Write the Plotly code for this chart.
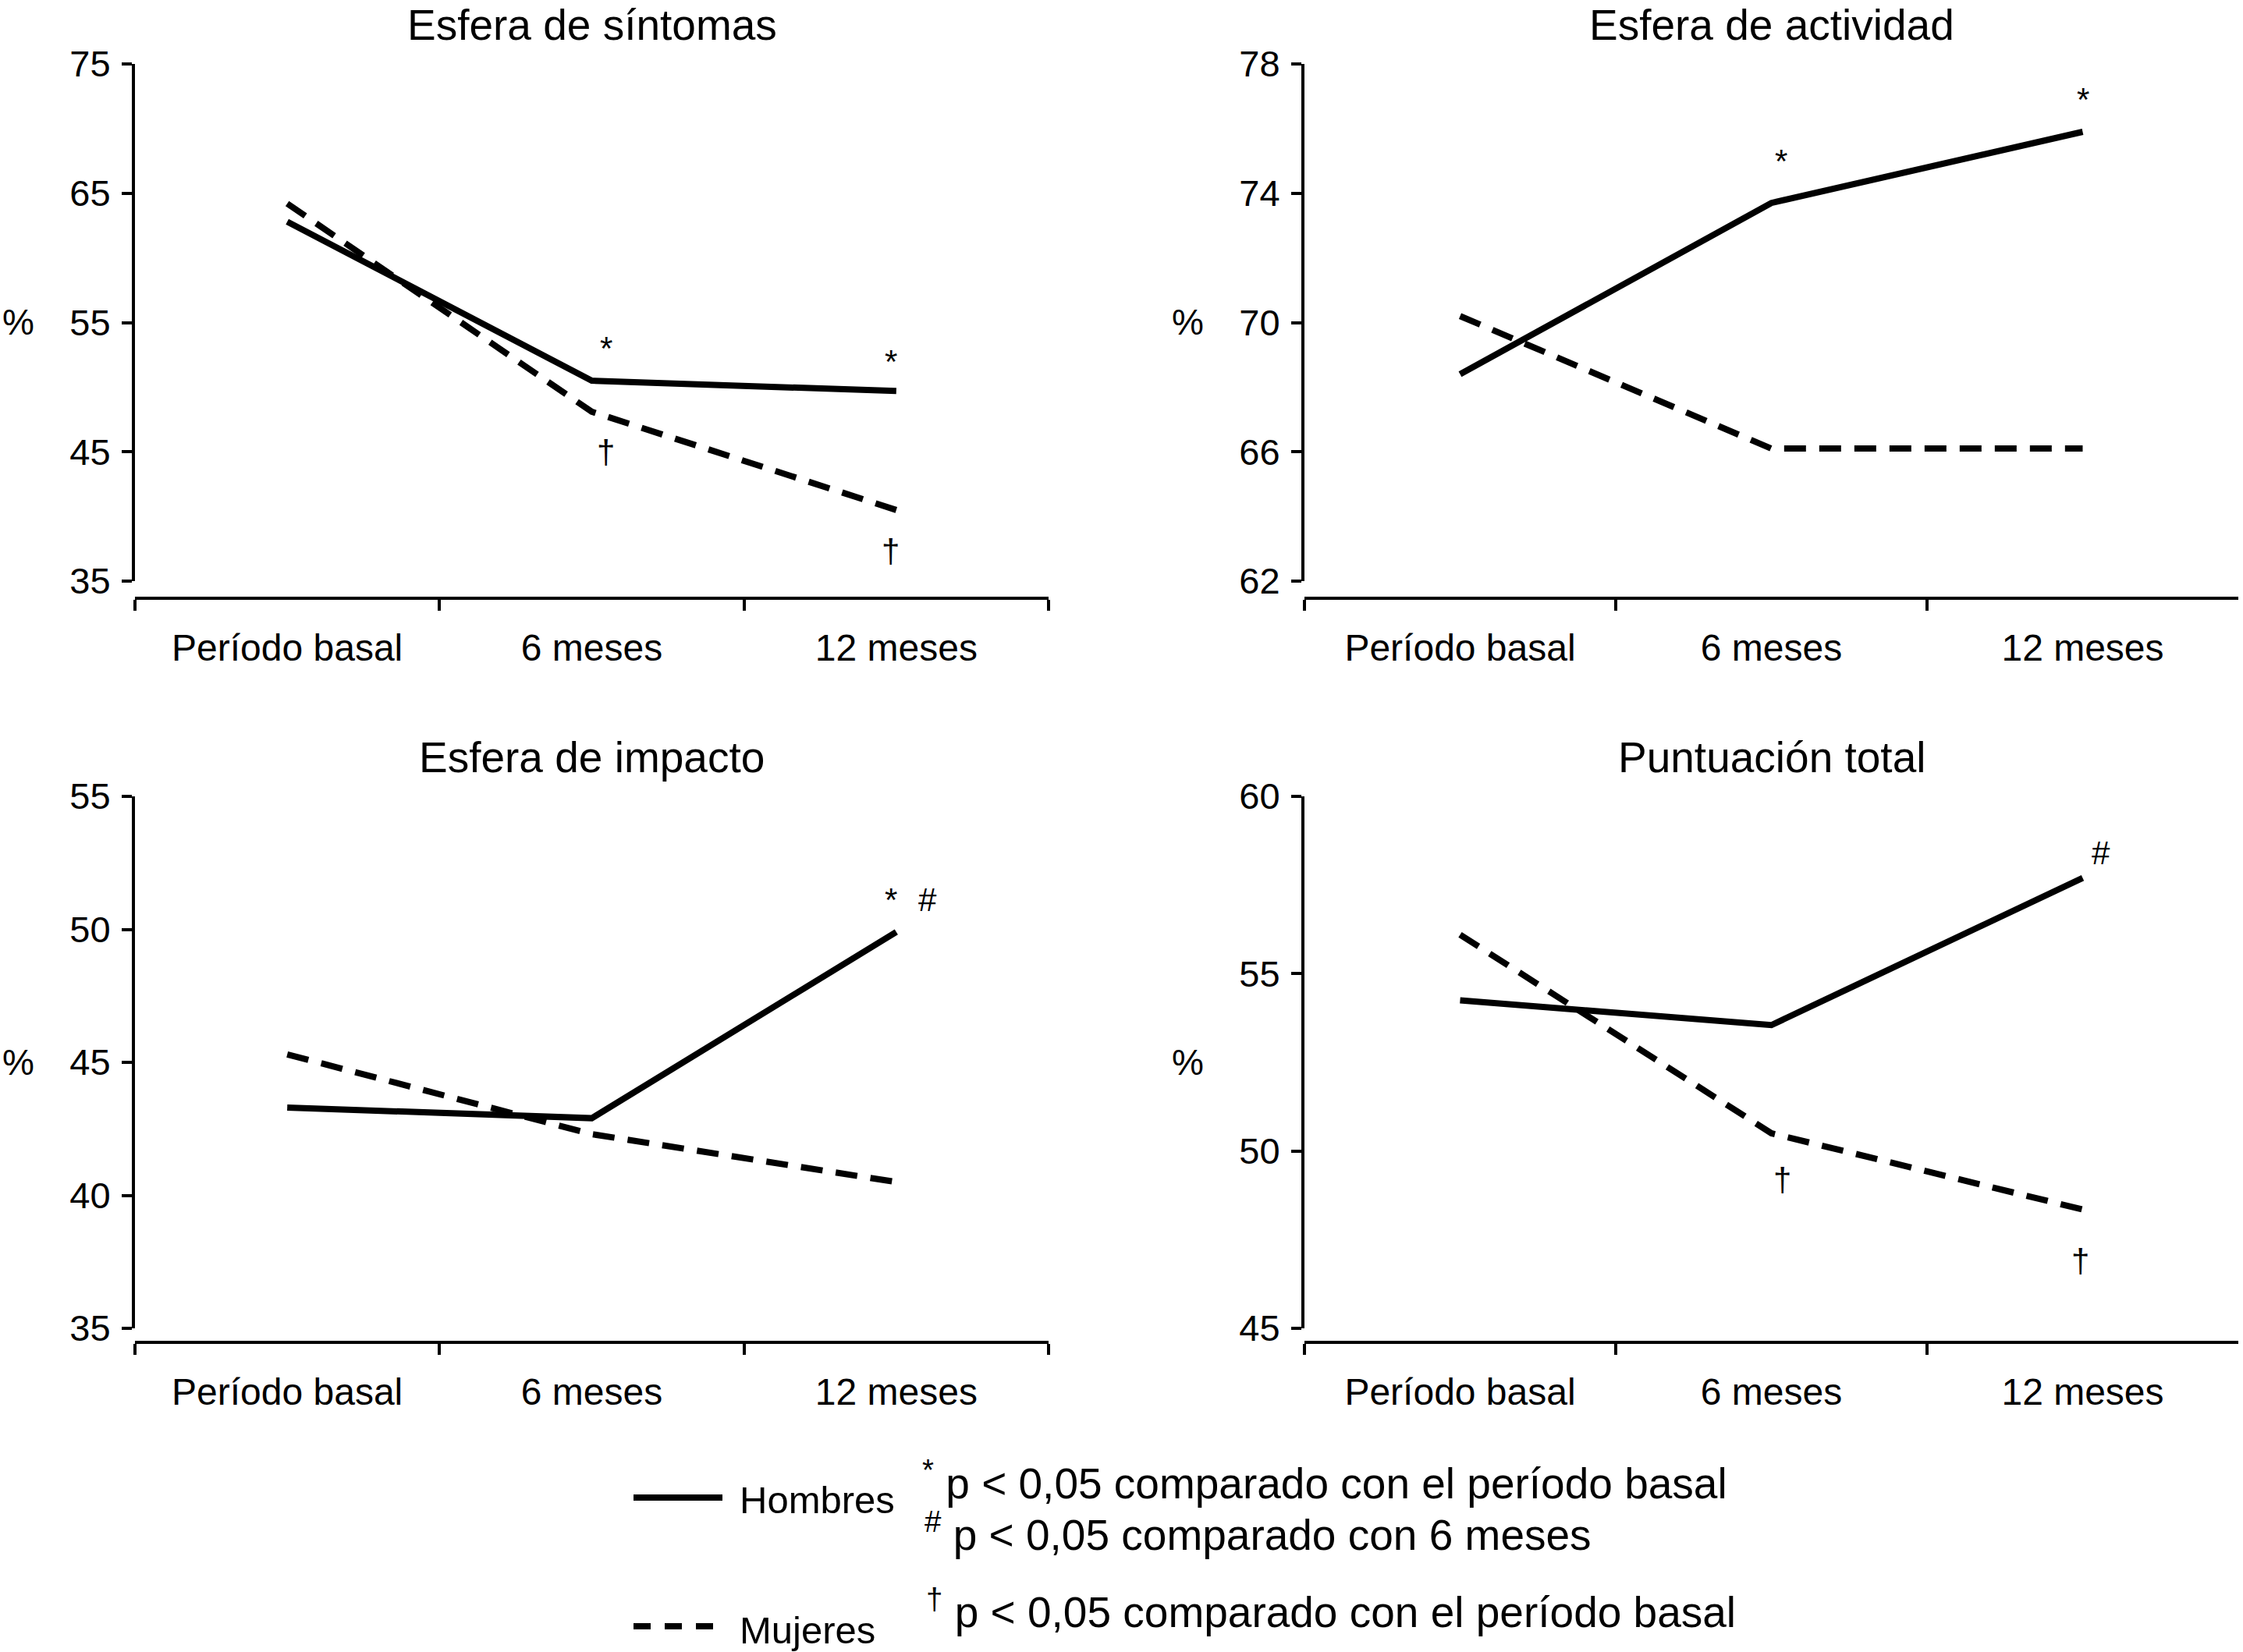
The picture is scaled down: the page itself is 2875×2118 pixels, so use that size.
import plotly.graph_objects as go

W, H = 2875, 2118
FONT = "Liberation Sans, Arial, Helvetica, sans-serif"

periodos = ["Período basal", "6 meses", "12 meses"]

titulos = ["Esfera de síntomas", "Esfera de actividad", "Esfera de impacto", "Puntuación total"]

hombres_sintomas = [62.8, 50.5, 49.7]
mujeres_sintomas = [64.2, 48.1, 40.5]
hombres_actividad = [68.4, 73.7, 75.9]
mujeres_actividad = [70.2, 66.1, 66.1]
hombres_impacto = [43.3, 42.9, 49.9]
mujeres_impacto = [45.3, 42.3, 40.5]
hombres_total = [54.25, 53.55, 57.7]
mujeres_total = [56.1, 50.5, 48.35]

rangos_y = [[35, 75], [62, 78], [35, 55], [45, 60]]
ticks_y = [[35, 45, 55, 65, 75], [62, 66, 70, 74, 78], [35, 40, 45, 50, 55], [45, 50, 55, 60]]

# significance marks: (periodo, y, simbolo, desplazamiento x en px)
marcas = [
    [("6 meses", 53.0, "*", 18), ("12 meses", 52.0, "*", -7),
     ("6 meses", 45.0, "†", 18), ("12 meses", 37.3, "†", -7)],
    [("6 meses", 75.0, "*", 12), ("12 meses", 76.9, "*", 0)],
    [("12 meses", 51.1, "*", -7), ("12 meses", 51.1, "#", 40)],
    [("12 meses", 58.4, "#", 23), ("6 meses", 49.2, "†", 14), ("12 meses", 46.9, "†", -3)],
]

series = [
    (hombres_sintomas, mujeres_sintomas),
    (hombres_actividad, mujeres_actividad),
    (hombres_impacto, mujeres_impacto),
    (hombres_total, mujeres_total),
]

# layout in pixels of the page
cols = [(173, 1344), (1672, 2869)]
rows = [(82, 745, 767), (1021, 1703, 1721)]  # y top, y bottom, x-axis line


def px_x(v):
    return v / W


def px_y(v):
    return 1 - v / H


fig = go.Figure()
for i, (h, m) in enumerate(series):
    n = "" if i == 0 else str(i + 1)
    fig.add_trace(go.Scatter(x=periodos, y=h, mode="lines", name="Hombres",
                             line=dict(color="black", width=8),
                             xaxis="x" + n, yaxis="y" + n, showlegend=False))
    fig.add_trace(go.Scatter(x=periodos, y=m, mode="lines", name="Mujeres",
                             line=dict(color="black", width=8, dash="28px,17px"),
                             xaxis="x" + n, yaxis="y" + n, showlegend=False))

layout = {}
anns = []
for i in range(4):
    n = "" if i == 0 else str(i + 1)
    c0, c1 = cols[i % 2]
    ytop, ybot, xline = rows[i // 2]
    layout["xaxis" + n] = dict(
        domain=[px_x(c0), px_x(c1)], anchor="free", position=px_y(xline),
        type="category", range=[-0.5, 2.5], tickson="boundaries",
        ticks="outside", ticklen=14, tickwidth=4, tickcolor="black",
        showline=True, linewidth=4, linecolor="black", showgrid=False,
        zeroline=False, ticklabelstandoff=20, automargin=False,
        tickfont=dict(family=FONT, size=48, color="black"),
    )
    layout["yaxis" + n] = dict(
        domain=[px_y(ybot), px_y(ytop)], anchor="x" + n,
        range=rangos_y[i], tickvals=ticks_y[i],
        ticks="outside", ticklen=13, tickwidth=4, tickcolor="black",
        showline=True, linewidth=4, linecolor="black", showgrid=False,
        zeroline=False, ticklabelstandoff=5, automargin=False,
        tickfont=dict(family=FONT, size=47, color="black"),
    )
    # panel title
    anns.append(dict(text=titulos[i], x=px_x((c0 + c1) / 2), y=px_y(ytop - 50),
                     xref="paper", yref="paper", showarrow=False,
                     xanchor="center", yanchor="middle",
                     font=dict(family=FONT, size=55, color="black")))
    # % label
    anns.append(dict(text="%", x=px_x(c0 - 150), y=px_y((ytop + ybot) / 2),
                     xref="paper", yref="paper", showarrow=False,
                     xanchor="center", yanchor="middle",
                     font=dict(family=FONT, size=46, color="black")))
    for per, yv, sym, dx in marcas[i]:
        anns.append(dict(text=sym, x=per, y=yv, xref="x" + n, yref="y" + n,
                         showarrow=False, xshift=dx, xanchor="center", yanchor="middle",
                         font=dict(family=FONT, size=42, color="black")))

# legend keys
shapes = [
    dict(type="line", xref="paper", yref="paper", x0=px_x(812), x1=px_x(926),
         y0=px_y(1920), y1=px_y(1920), line=dict(color="black", width=8)),
    dict(type="line", xref="paper", yref="paper", x0=px_x(812), x1=px_x(926),
         y0=px_y(2085), y1=px_y(2085), line=dict(color="black", width=8, dash="22px,18px")),
]
anns += [
    dict(text="Hombres", x=px_x(946), y=px_y(1923), xref="paper", yref="paper",
         showarrow=False, xanchor="left", yanchor="middle",
         font=dict(family=FONT, size=49, color="black")),
    dict(text="Mujeres", x=px_x(946), y=px_y(2090), xref="paper", yref="paper",
         showarrow=False, xanchor="left", yanchor="middle",
         font=dict(family=FONT, size=49, color="black")),
    dict(text="<sup>*</sup> p < 0,05 comparado con el período basal", x=px_x(1180), y=px_y(1898),
         xref="paper", yref="paper", showarrow=False, xanchor="left", yanchor="middle",
         font=dict(family=FONT, size=55, color="black")),
    dict(text="<sup>#</sup> p < 0,05 comparado con 6 meses", x=px_x(1183), y=px_y(1964),
         xref="paper", yref="paper", showarrow=False, xanchor="left", yanchor="middle",
         font=dict(family=FONT, size=55, color="black")),
    dict(text="<sup>†</sup> p < 0,05 comparado con el período basal", x=px_x(1185), y=px_y(2063),
         xref="paper", yref="paper", showarrow=False, xanchor="left", yanchor="middle",
         font=dict(family=FONT, size=55, color="black")),
]

fig.update_layout(
    width=W, height=H, margin=dict(l=0, r=0, t=0, b=0, autoexpand=False),
    paper_bgcolor="white", plot_bgcolor="white",
    annotations=anns, shapes=shapes, showlegend=False,
    font=dict(family=FONT, color="black"),
    **layout,
)

fig.write_html("out.html", config={"displayModeBar": False},
               post_script="document.body.style.margin='0px';")
